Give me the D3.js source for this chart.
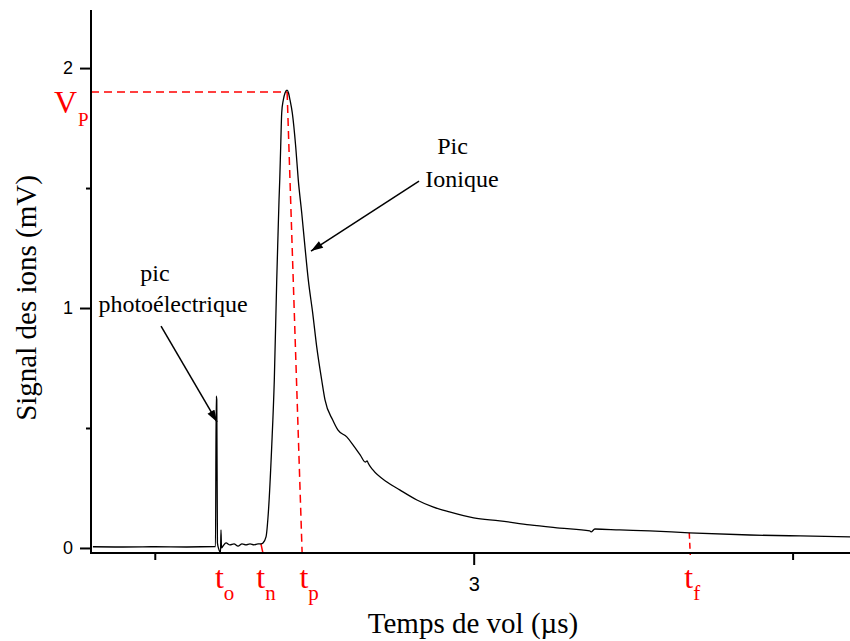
<!DOCTYPE html>
<html>
<head>
<meta charset="utf-8">
<script src="https://cdn.jsdelivr.net/npm/d3@7"></script>
<style>
  html, body { margin: 0; padding: 0; background: #fff; }
  svg { display: block; }
</style>
</head>
<body>
<svg id="chart" width="850" height="641"></svg>
<script>
// ---- Data ----
const timeUs = [
  2.403, 2.450, 2.500, 2.550, 2.5952, 2.5963, 2.5972, 2.5982, 2.6007, 2.6030,
  2.6038, 2.6046, 2.6070, 2.6117, 2.6179, 2.6242, 2.6305, 2.6368, 2.6430, 2.6493,
  2.6556, 2.6618, 2.6665, 2.6697, 2.6744, 2.6780, 2.6833, 2.6874, 2.6912, 2.6932,
  2.6948, 2.6959, 2.6974, 2.6990, 2.7015, 2.7042, 2.7073, 2.7097, 2.7120, 2.7156,
  2.7210, 2.7250, 2.7304, 2.7355, 2.7407, 2.7476, 2.7539, 2.7617, 2.7669, 2.7790,
  2.7870, 2.8010, 2.8110, 2.8220, 2.8300, 2.8330, 2.8345, 2.8420, 2.8640, 2.8840,
  2.9110, 2.9360, 2.9620, 3.0000, 3.0410, 3.0880, 3.1350, 3.1820, 3.1840, 3.1900,
  3.2290, 3.2760, 3.3380, 3.4330, 3.5120, 3.5900
];
const signalMV = [
  0.005, 0.004, 0.005, 0.004, 0.006, 0.633, 0.617, 0.021, -0.008, -0.021,
  0.075, 0.000, 0.008, 0.021, 0.0125, 0.017, 0.008, 0.017, 0.0125, 0.017,
  0.0125, 0.017, 0.017, 0.021, 0.046, 0.146, 0.421, 0.700, 1.117, 1.304,
  1.450, 1.533, 1.671, 1.813, 1.867, 1.896, 1.908, 1.896, 1.867, 1.813,
  1.671, 1.533, 1.396, 1.254, 1.117, 0.979, 0.838, 0.700, 0.617, 0.533,
  0.492, 0.463, 0.429, 0.388, 0.358, 0.363, 0.354, 0.325, 0.275, 0.242,
  0.200, 0.171, 0.150, 0.125, 0.113, 0.096, 0.083, 0.071, 0.067, 0.079,
  0.075, 0.071, 0.063, 0.054, 0.050, 0.046
];

const xMajorTicks = [3];
const xMinorTicks = [2.5, 3.5];
const yMajorTicks = [0, 1, 2];
const yMinorTicks = [0.5, 1.5];

// Characteristic times / peak voltage annotations
const tO = 2.597, tN = 2.668, tPeak = 2.7075, tP = 2.731, tF = 3.338;
const vP = 1.90;
const timeLabels = [
  { base: "t", sub: "o", t: tO, dx: 8 },
  { base: "t", sub: "n", t: tN, dx: 4 },
  { base: "t", sub: "p", t: tP, dx: 7 },
  { base: "t", sub: "f", t: tF, dx: 3 }
];

const xTitle = "Temps de vol (µs)";
const yTitle = "Signal des ions (mV)";

// ---- Layout ----
const svg = d3.select("#chart");
const plotLeft = 91, plotRight = 850, plotTop = 10, plotBottom = 553;

const x = d3.scaleLinear().domain([2.40, 3.59]).range([plotLeft, plotRight]);
const y = d3.scaleLinear().domain([-0.021, 2.242]).range([plotBottom, plotTop]);

const serif = "'Liberation Serif', 'Times New Roman', Times, serif";
const sans = "'Liberation Sans', Arial, Helvetica, sans-serif";
const red = "#ff0000";

// defs: arrow head
const defs = svg.append("defs");
defs.append("marker")
  .attr("id", "arrow")
  .attr("viewBox", "0 0 12 8")
  .attr("refX", 12).attr("refY", 4)
  .attr("markerWidth", 13).attr("markerHeight", 8)
  .attr("markerUnits", "userSpaceOnUse")
  .attr("orient", "auto")
  .append("path")
  .attr("d", "M0,0 L12,4 L0,8 Z")
  .attr("fill", "#000");

// ---- Red dashed guides ----
svg.append("line")
  .attr("x1", x(2.40)).attr("y1", y(vP))
  .attr("x2", x(tPeak)).attr("y2", y(vP))
  .attr("stroke", red).attr("stroke-width", 1.5)
  .attr("stroke-dasharray", "8,5");
svg.append("line")
  .attr("x1", x(tPeak)).attr("y1", y(vP))
  .attr("x2", x(tP)).attr("y2", y(-0.021))
  .attr("stroke", red).attr("stroke-width", 1.5)
  .attr("stroke-dasharray", "8,5");
svg.append("line")
  .attr("x1", x(tF)).attr("y1", y(0.063))
  .attr("x2", x(tF) + 1).attr("y2", y(-0.021) + 2)
  .attr("stroke", red).attr("stroke-width", 1.5)
  .attr("stroke-dasharray", "6,4");
svg.append("line")
  .attr("x1", x(tN) - 1).attr("y1", y(0.017))
  .attr("x2", x(tN) + 1).attr("y2", y(-0.021))
  .attr("stroke", red).attr("stroke-width", 1.5);

// ---- Signal curve ----
const data = timeUs.map((t, i) => ({ t, v: signalMV[i] }));
const line = d3.line()
  .x(d => x(d.t))
  .y(d => y(d.v))
  .curve(d3.curveMonotoneX);
svg.append("path")
  .datum(data)
  .attr("d", line)
  .attr("fill", "none")
  .attr("stroke", "#000")
  .attr("stroke-width", 1.3)
  .attr("stroke-linejoin", "round");

// ---- Axes ----
function styleAxis(g) {
  g.attr("font-family", null).attr("font-size", null);
  g.select(".domain").remove();
  g.selectAll(".tick line").attr("stroke", "#000").attr("stroke-width", 2);
  g.selectAll(".tick text").attr("fill", "#000");
}
svg.append("g")
  .attr("transform", `translate(${plotLeft},0)`)
  .call(d3.axisLeft(y).tickValues(yMajorTicks).tickSize(11).tickPadding(7)
    .tickFormat(d3.format("d")).tickSizeOuter(0))
  .call(styleAxis)
  .call(g => g.selectAll(".tick text")
    .style("font-family", sans).style("font-size", "18px"));
svg.append("g")
  .attr("transform", `translate(${plotLeft},0)`)
  .call(d3.axisLeft(y).tickValues(yMinorTicks).tickSize(5).tickFormat("").tickSizeOuter(0))
  .call(styleAxis);
svg.append("g")
  .attr("transform", `translate(0,${plotBottom})`)
  .call(d3.axisBottom(x).tickValues(xMajorTicks).tickSize(12).tickPadding(12)
    .tickFormat(d3.format("d")).tickSizeOuter(0))
  .call(styleAxis)
  .call(g => g.selectAll(".tick text")
    .style("font-family", sans).style("font-size", "20px"));
svg.append("g")
  .attr("transform", `translate(0,${plotBottom})`)
  .call(d3.axisBottom(x).tickValues(xMinorTicks).tickSize(7).tickFormat("").tickSizeOuter(0))
  .call(styleAxis);

// axis lines
svg.append("line")
  .attr("x1", plotLeft).attr("y1", plotTop).attr("x2", plotLeft).attr("y2", plotBottom + 1)
  .attr("stroke", "#000").attr("stroke-width", 2);
svg.append("line")
  .attr("x1", plotLeft - 1).attr("y1", plotBottom).attr("x2", plotRight).attr("y2", plotBottom)
  .attr("stroke", "#000").attr("stroke-width", 2);

// ---- Axis titles ----
svg.append("text")
  .attr("x", 473).attr("y", 633)
  .attr("text-anchor", "middle")
  .style("font-family", serif).style("font-size", "29px")
  .attr("fill", "#000")
  .text(xTitle);
svg.append("text")
  .attr("transform", "translate(36,298) rotate(-90)")
  .attr("text-anchor", "middle")
  .style("font-family", serif).style("font-size", "29px")
  .attr("fill", "#000")
  .text(yTitle);

// ---- V_P label ----
const vpText = svg.append("text")
  .attr("x", 54).attr("y", y(vP) + 21)
  .style("font-family", serif).attr("fill", red);
vpText.append("tspan").style("font-size", "32px").text("V");
vpText.append("tspan").style("font-size", "19px").attr("dy", 13).attr("dx", 1).text("P");

// ---- time labels ----
timeLabels.forEach(l => {
  const txt = svg.append("text")
    .attr("x", x(l.t) + l.dx).attr("y", 588)
    .attr("text-anchor", "middle")
    .style("font-family", serif).attr("fill", red);
  txt.append("tspan").style("font-size", "32px").text(l.base);
  txt.append("tspan").style("font-size", "21px").attr("dy", 12).text(l.sub);
});

// ---- Annotations ----
function note(t, yPx, str) {
  svg.append("text")
    .attr("x", x(t)).attr("y", yPx)
    .attr("text-anchor", "middle")
    .style("font-family", serif).style("font-size", "24px")
    .attr("fill", "#000")
    .text(str);
}
note(2.5003, 281, "pic");
note(2.5286, 312, "photoélectrique");
svg.append("line")
  .attr("x1", x(2.5098)).attr("y1", y(0.925))
  .attr("x2", x(2.5976)).attr("y2", y(0.525))
  .attr("stroke", "#000").attr("stroke-width", 1.5)
  .attr("marker-end", "url(#arrow)");

note(2.9668, 154, "Pic");
note(2.9817, 187, "Ionique");
svg.append("line")
  .attr("x1", x(2.9143)).attr("y1", y(1.529))
  .attr("x2", x(2.7449)).attr("y2", y(1.2375))
  .attr("stroke", "#000").attr("stroke-width", 1.5)
  .attr("marker-end", "url(#arrow)");
</script>
</body>
</html>
